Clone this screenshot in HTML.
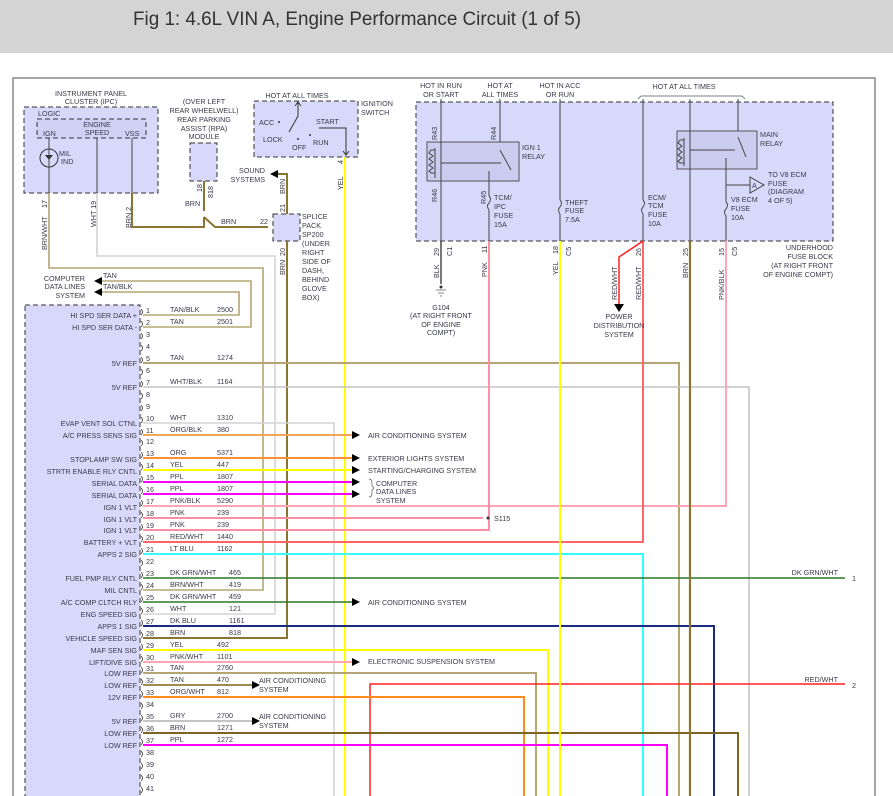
<!DOCTYPE html>
<html><head><meta charset="utf-8"><style>
html,body{margin:0;padding:0;background:#fff;}
svg{display:block;}
text{font-family:"Liberation Sans",sans-serif;fill:#3a3a4a;font-size:7.2px;}
.r{text-anchor:end}.m{text-anchor:middle}
</style></head><body>
<svg width="893" height="796" viewBox="0 0 893 796" xmlns="http://www.w3.org/2000/svg">
<defs>
<marker id="ar" markerWidth="8" markerHeight="8" refX="1" refY="4" orient="auto" markerUnits="userSpaceOnUse"><path d="M0,0 L8,4 L0,8z" fill="#000"/></marker>
</defs>
<rect x="0" y="0" width="893" height="53" fill="#d4d4d4"/>
<text x="133" y="25" style="font-size:19px;fill:#333" textLength="448" lengthAdjust="spacingAndGlyphs">Fig 1: 4.6L VIN A, Engine Performance Circuit (1 of 5)</text>
<path d="M13,796 V78 H875 V796" fill="none" stroke="#888" stroke-width="1.5"/>

<!-- boxes -->
<rect x="24" y="107" width="134" height="86" fill="#d8d8fa" stroke="#333" stroke-dasharray="5,3"/>
<rect x="37" y="119" width="109" height="19" fill="#d0d0f5" stroke="#333" stroke-dasharray="5,3"/>
<rect x="190" y="143" width="27" height="38" fill="#d8d8fa" stroke="#333" stroke-dasharray="5,3"/>
<rect x="254" y="101" width="104" height="56" fill="#d8d8fa" stroke="#333" stroke-dasharray="5,3"/>
<rect x="273" y="214" width="27" height="27" fill="#d8d8fa" stroke="#333" stroke-dasharray="5,3"/>
<rect x="25" y="305" width="115" height="500" fill="#d8d8fa" stroke="#333" stroke-dasharray="5,3"/>
<rect x="416" y="102" width="417" height="139" fill="#d8d8fa" stroke="#333" stroke-dasharray="5,3"/>
<rect x="427" y="142" width="92" height="39" fill="#ccccf0" stroke="#555"/>
<rect x="677" y="131" width="80" height="38" fill="#ccccf0" stroke="#555"/>

<!-- IPC -->
<text class="m" x="91" y="96">INSTRUMENT PANEL</text>
<text class="m" x="91" y="104">CLUSTER (IPC)</text>
<text x="38" y="116">LOGIC</text>
<text class="m" x="97" y="127">ENGINE</text>
<text class="m" x="97" y="135">SPEED</text>
<text x="43" y="136">IGN</text>
<text x="125" y="136">VSS</text>
<circle cx="49" cy="158" r="9" fill="none" stroke="#333"/>
<path d="M45,155 h8 l-4,5z" fill="#333"/>
<text x="59" y="156">MIL</text><text x="61" y="164">IND</text>
<path d="M49,138 V193 M97,138 V193 M132,138 V193" stroke="#444" fill="none"/>
<text transform="translate(47,208) rotate(-90)">17</text>
<text transform="translate(47,250) rotate(-90)">BRN/WHT</text>
<text transform="translate(96,227) rotate(-90)">WHT 19</text>
<text transform="translate(131,228) rotate(-90)">BRN 2</text>

<!-- RPA -->
<text class="m" x="204" y="104">(OVER LEFT</text>
<text class="m" x="204" y="113">REAR WHEELWELL)</text>
<text class="m" x="204" y="122">REAR PARKING</text>
<text class="m" x="204" y="131">ASSIST (RPA)</text>
<text class="m" x="204" y="139">MODULE</text>
<text transform="translate(202,192) rotate(-90)">18</text>
<text transform="translate(213,198) rotate(-90)">818</text>
<text x="185" y="206">BRN</text>
<text x="221" y="224">BRN</text>
<text x="260" y="224">22</text>

<!-- Ignition switch -->
<text class="m" x="297" y="98">HOT AT ALL TIMES</text>
<text x="361" y="106">IGNITION</text><text x="361" y="115">SWITCH</text>
<text x="259" y="125">ACC</text><text x="263" y="142">LOCK</text>
<text x="292" y="150">OFF</text><text x="313" y="145">RUN</text><text x="316" y="124">START</text>
<path d="M298,102 V116 L289,132 M295,106 l3,-4 3,4 M319,128 H346 V155 M343,151 l3,4 3,-4" stroke="#333" fill="none"/>
<circle cx="279" cy="122" r="1" fill="#333"/><circle cx="298" cy="139" r="1" fill="#333"/><circle cx="310" cy="135" r="1" fill="#333"/>
<text transform="translate(343,164) rotate(-90)">4</text>
<text transform="translate(343,190) rotate(-90)">YEL</text>

<!-- Splice -->
<text x="302" y="219">SPLICE</text><text x="302" y="228">PACK</text><text x="302" y="237">SP200</text>
<text x="302" y="246">(UNDER</text><text x="302" y="255">RIGHT</text><text x="302" y="264">SIDE OF</text>
<text x="302" y="273">DASH,</text><text x="302" y="282">BEHIND</text><text x="302" y="291">GLOVE</text><text x="302" y="300">BOX)</text>
<text class="r" x="265" y="173">SOUND</text><text class="r" x="265" y="182">SYSTEMS</text>
<text transform="translate(285,194) rotate(-90)">BRN</text>
<text transform="translate(285,212) rotate(-90)">21</text>
<text transform="translate(285,256) rotate(-90)">20</text>
<text transform="translate(285,275) rotate(-90)">BRN</text>

<!-- computer data lines -->
<text class="r" x="85" y="281">COMPUTER</text><text class="r" x="85" y="289">DATA LINES</text><text class="r" x="85" y="298">SYSTEM</text>
<text x="103" y="278">TAN</text><text x="103" y="289">TAN/BLK</text>

<!-- wires upper -->
<g fill="none" stroke-width="1.6">
<path d="M49,193 V268 H263 V590 H143" stroke="#b5a574"/>
<path d="M97,193 V256 H275 V614 H143" stroke="#d4d4d4"/>
<path d="M132,193 V227 H204 V217 M204,181 V211 M204,217 L215,227 H268 M287,241 V638 H143 M287,214 V174 H278" stroke="#8b7530" stroke-width="2"/>
<path d="M345,157 V796" stroke="#ffff00" stroke-width="2"/>
<path d="M143,315 H239 V292 H101" stroke="#b5a574" marker-end="url(#ar)"/>
<path d="M143,327 H251 V281 H101" stroke="#b5a574" marker-end="url(#ar)"/>
<path d="M143,363 H679 V796" stroke="#b5a574" stroke-width="2"/>
<path d="M143,387 H749 V796" stroke="#c4c4c4"/>
<path d="M143,423 H334 V796" stroke="#d4d4d4"/>
<path d="M143,435 H352" stroke="#f5a55a" stroke-width="2"/>
<path d="M143,458 H352" stroke="#ff9033" stroke-width="2"/>
<path d="M143,470 H352" stroke="#ffff00" stroke-width="2"/>
<path d="M143,482 H352" stroke="#ff00ff" stroke-width="2"/>
<path d="M143,494 H352" stroke="#ff00ff" stroke-width="2"/>
<path d="M143,506 H726 V241" stroke="#ffa5b5" stroke-width="2"/>
<path d="M143,518 H483" stroke="#ff8fa3" stroke-width="2"/>
<path d="M143,530 H489 V241" stroke="#ff8fa3" stroke-width="2"/>
<path d="M143,542 H643 V241" stroke="#ff6666" stroke-width="2"/>
<path d="M143,554 H643 V796" stroke="#33ffff" stroke-width="2"/>
<path d="M143,578 H845" stroke="#2a7a2a"/>
<path d="M143,602 H352" stroke="#2a7a2a"/>
<path d="M143,626 H714 V796" stroke="#1a2a80" stroke-width="2"/>
<path d="M143,650 H548 V796" stroke="#ffff00" stroke-width="2"/>
<path d="M143,662 H352" stroke="#ffa5b5" stroke-width="2"/>
<path d="M143,673 H536 V796" stroke="#b5a574" stroke-width="2"/>
<path d="M143,685 H252" stroke="#a08a50" stroke-width="2"/>
<path d="M370,796 V684 H845" stroke="#ff2020" stroke-width="1.5"/>
<path d="M143,697 H524 V796" stroke="#ff8c1a" stroke-width="2"/>
<path d="M143,721 H252" stroke="#c4c4c4" stroke-width="2"/>
<path d="M143,733 H738 V796" stroke="#7d6520" stroke-width="2"/>
<path d="M143,745 H667 V796" stroke="#ff00ff" stroke-width="2"/>
<path d="M560,241 V796" stroke="#ffff00" stroke-width="2"/>
<path d="M690,241 V796" stroke="#8b7530" stroke-width="2.2"/>
<path d="M441,241 V284" stroke="#555"/>
<path d="M643,241 L619,257 V304" stroke="#ff2020" stroke-width="1.5"/>
</g>
<!-- arrowheads -->
<g fill="#000">
<path d="M278,170 l-8,4 8,4z"/>
<path d="M352,431 l8,4 -8,4z"/><path d="M352,454 l8,4 -8,4z"/><path d="M352,466 l8,4 -8,4z"/>
<path d="M352,478 l8,4 -8,4z"/><path d="M352,490 l8,4 -8,4z"/><path d="M352,598 l8,4 -8,4z"/><path d="M352,658 l8,4 -8,4z"/>
<path d="M252,681 l8,4 -8,4z"/><path d="M252,717 l8,4 -8,4z"/>
<path d="M614,304 h10 l-5,8z"/>
</g>
<circle cx="488" cy="518" r="1.5" fill="#333"/>
<text x="494" y="521">S115</text>
<text x="368" y="438">AIR CONDITIONING SYSTEM</text>
<text x="368" y="461">EXTERIOR LIGHTS SYSTEM</text>
<text x="368" y="473">STARTING/CHARGING SYSTEM</text>
<path d="M369,479 q3,0 3,4 v3 l2,2 -2,2 v3 q0,4 -3,4" fill="none" stroke="#555" stroke-width="0.7"/>
<text x="376" y="486">COMPUTER</text><text x="376" y="494">DATA LINES</text><text x="376" y="503">SYSTEM</text>
<text x="368" y="605">AIR CONDITIONING SYSTEM</text>
<text x="368" y="664">ELECTRONIC SUSPENSION SYSTEM</text>
<text x="259" y="683">AIR CONDITIONING</text><text x="259" y="692">SYSTEM</text>
<text x="259" y="719">AIR CONDITIONING</text><text x="259" y="728">SYSTEM</text>
<text class="r" x="838" y="575">DK GRN/WHT</text><text x="852" y="581">1</text>
<text class="r" x="838" y="682">RED/WHT</text><text x="852" y="688">2</text>

<!-- PCM pin labels -->
<g>
<text class="r" x="137" y="318">HI SPD SER DATA +</text>
<text class="r" x="137" y="330">HI SPD SER DATA -</text>
<text class="r" x="137" y="366">5V REF</text>
<text class="r" x="137" y="390">5V REF</text>
<text class="r" x="137" y="426">EVAP VENT SOL CTNL</text>
<text class="r" x="137" y="438">A/C PRESS SENS SIG</text>
<text class="r" x="137" y="462">STOPLAMP SW SIG</text>
<text class="r" x="137" y="474">STRTR ENABLE RLY CNTL</text>
<text class="r" x="137" y="486">SERIAL DATA</text>
<text class="r" x="137" y="498">SERIAL DATA</text>
<text class="r" x="137" y="510">IGN 1 VLT</text>
<text class="r" x="137" y="522">IGN 1 VLT</text>
<text class="r" x="137" y="533">IGN 1 VLT</text>
<text class="r" x="137" y="545">BATTERY + VLT</text>
<text class="r" x="137" y="557">APPS 2 SIG</text>
<text class="r" x="137" y="581">FUEL PMP RLY CNTL</text>
<text class="r" x="137" y="593">MIL CNTL</text>
<text class="r" x="137" y="605">A/C COMP CLTCH RLY</text>
<text class="r" x="137" y="617">ENG SPEED SIG</text>
<text class="r" x="137" y="629">APPS 1 SIG</text>
<text class="r" x="137" y="641">VEHICLE SPEED SIG</text>
<text class="r" x="137" y="653">MAF SEN SIG</text>
<text class="r" x="137" y="665">LIFT/DIVE SIG</text>
<text class="r" x="137" y="676">LOW REF</text>
<text class="r" x="137" y="688">LOW REF</text>
<text class="r" x="137" y="700">12V REF</text>
<text class="r" x="137" y="724">5V REF</text>
<text class="r" x="137" y="736">LOW REF</text>
<text class="r" x="137" y="748">LOW REF</text>
</g>
<!-- pin numbers and connector arcs -->
<g style="font-size:6.8px">
<text x="146" y="313">1</text><text x="146" y="325">2</text><text x="146" y="337">3</text><text x="146" y="349">4</text><text x="146" y="361">5</text><text x="146" y="373">6</text><text x="146" y="385">7</text><text x="146" y="397">8</text><text x="146" y="409">9</text><text x="146" y="421">10</text><text x="146" y="433">11</text><text x="146" y="444">12</text><text x="146" y="456">13</text><text x="146" y="468">14</text><text x="146" y="480">15</text><text x="146" y="492">16</text><text x="146" y="504">17</text><text x="146" y="516">18</text><text x="146" y="528">19</text><text x="146" y="540">20</text><text x="146" y="552">21</text><text x="146" y="564">22</text><text x="146" y="576">23</text><text x="146" y="588">24</text><text x="146" y="600">25</text><text x="146" y="612">26</text><text x="146" y="624">27</text><text x="146" y="636">28</text><text x="146" y="648">29</text><text x="146" y="660">30</text><text x="146" y="671">31</text><text x="146" y="683">32</text><text x="146" y="695">33</text><text x="146" y="707">34</text><text x="146" y="719">35</text><text x="146" y="731">36</text><text x="146" y="743">37</text><text x="146" y="755">38</text><text x="146" y="767">39</text><text x="146" y="779">40</text><text x="146" y="791">41</text>
</g>
<path d="M141,309 q3,3 0,6 M141,321 q3,3 0,6 M141,333 q3,3 0,6 M141,345 q3,3 0,6 M141,357 q3,3 0,6 M141,369 q3,3 0,6 M141,381 q3,3 0,6 M141,393 q3,3 0,6 M141,405 q3,3 0,6 M141,417 q3,3 0,6 M141,429 q3,3 0,6 M141,440 q3,3 0,6 M141,452 q3,3 0,6 M141,464 q3,3 0,6 M141,476 q3,3 0,6 M141,488 q3,3 0,6 M141,500 q3,3 0,6 M141,512 q3,3 0,6 M141,524 q3,3 0,6 M141,536 q3,3 0,6 M141,548 q3,3 0,6 M141,560 q3,3 0,6 M141,572 q3,3 0,6 M141,584 q3,3 0,6 M141,596 q3,3 0,6 M141,608 q3,3 0,6 M141,620 q3,3 0,6 M141,632 q3,3 0,6 M141,644 q3,3 0,6 M141,656 q3,3 0,6 M141,667 q3,3 0,6 M141,679 q3,3 0,6 M141,691 q3,3 0,6 M141,703 q3,3 0,6 M141,715 q3,3 0,6 M141,727 q3,3 0,6 M141,739 q3,3 0,6 M141,751 q3,3 0,6 M141,763 q3,3 0,6 M141,775 q3,3 0,6 M141,787 q3,3 0,6" fill="none" stroke="#333" stroke-width="0.8"/>
<!-- wire names -->
<g>
<text x="170" y="312">TAN/BLK</text><text x="217" y="312">2500</text>
<text x="170" y="324">TAN</text><text x="217" y="324">2501</text>
<text x="170" y="360">TAN</text><text x="217" y="360">1274</text>
<text x="170" y="384">WHT/BLK</text><text x="217" y="384">1164</text>
<text x="170" y="420">WHT</text><text x="217" y="420">1310</text>
<text x="170" y="432">ORG/BLK</text><text x="217" y="432">380</text>
<text x="170" y="455">ORG</text><text x="217" y="455">5371</text>
<text x="170" y="467">YEL</text><text x="217" y="467">447</text>
<text x="170" y="479">PPL</text><text x="217" y="479">1807</text>
<text x="170" y="491">PPL</text><text x="217" y="491">1807</text>
<text x="170" y="503">PNK/BLK</text><text x="217" y="503">5290</text>
<text x="170" y="515">PNK</text><text x="217" y="515">239</text>
<text x="170" y="527">PNK</text><text x="217" y="527">239</text>
<text x="170" y="539">RED/WHT</text><text x="217" y="539">1440</text>
<text x="170" y="551">LT BLU</text><text x="217" y="551">1162</text>
<text x="170" y="575">DK GRN/WHT</text><text x="229" y="575">465</text>
<text x="170" y="587">BRN/WHT</text><text x="229" y="587">419</text>
<text x="170" y="599">DK GRN/WHT</text><text x="229" y="599">459</text>
<text x="170" y="611">WHT</text><text x="229" y="611">121</text>
<text x="170" y="623">DK BLU</text><text x="229" y="623">1161</text>
<text x="170" y="635">BRN</text><text x="229" y="635">818</text>
<text x="170" y="647">YEL</text><text x="217" y="647">492</text>
<text x="170" y="659">PNK/WHT</text><text x="217" y="659">1101</text>
<text x="170" y="670">TAN</text><text x="217" y="670">2760</text>
<text x="170" y="682">TAN</text><text x="217" y="682">470</text>
<text x="170" y="694">ORG/WHT</text><text x="217" y="694">812</text>
<text x="170" y="718">GRY</text><text x="217" y="718">2700</text>
<text x="170" y="730">BRN</text><text x="217" y="730">1271</text>
<text x="170" y="742">PPL</text><text x="217" y="742">1272</text>
</g>

<!-- fuse block -->
<text class="m" x="441" y="88">HOT IN RUN</text><text class="m" x="441" y="97">OR START</text>
<text class="m" x="500" y="88">HOT AT</text><text class="m" x="500" y="97">ALL TIMES</text>
<text class="m" x="560" y="88">HOT IN ACC</text><text class="m" x="560" y="97">OR RUN</text>
<text class="m" x="684" y="89">HOT AT ALL TIMES</text>
<path d="M638,99 l3,-3 H742 l3,3" fill="none" stroke="#555" stroke-width="0.7"/>
<g fill="none" stroke="#444" stroke-width="1">
<path d="M441,99 V241 M500,99 V142 M489,181 V241 M560,99 V241 M643,99 V241 M690,99 V241 M738,99 V131 M726,169 V241 M726,185 H750"/>
<path d="M435,148 v30 M435,150 h-4 l-2,3 4,3 -4,3 4,3 -4,3 4,3 -4,3 2,2 h4 M441,163 h60" />
<path d="M441,163 H500" stroke-dasharray="4,3"/>
<path d="M500,150 L511,170 M489,171 V181"/>
<path d="M684,138 v28 M684,140 h-4 l-2,3 4,3 -4,3 4,3 -4,3 4,3 -4,3 2,2 h4 M690,150 H735"/>
<path d="M690,150 H735" stroke-dasharray="4,3"/>
<path d="M738,137 L746,157 M726,158 V169"/>
<path d="M489,196 q3,3 0,6 q-3,3 0,6 M560,201 q3,3 0,6 q-3,3 0,6 M643,201 q3,3 0,6 q-3,3 0,6 M726,203 q3,3 0,6 q-3,3 0,6"/>
</g>
<rect x="486" y="196" width="6" height="14" fill="#d8d8fa"/><path d="M489,196 q3,3 0,7 q-3,3 0,7" fill="none" stroke="#444"/>
<rect x="557" y="200" width="6" height="14" fill="#d8d8fa"/><path d="M560,200 q3,3 0,7 q-3,3 0,7" fill="none" stroke="#444"/>
<rect x="640" y="200" width="6" height="14" fill="#d8d8fa"/><path d="M643,200 q3,3 0,7 q-3,3 0,7" fill="none" stroke="#444"/>
<rect x="723" y="202" width="6" height="14" fill="#d8d8fa"/><path d="M726,202 q3,3 0,7 q-3,3 0,7" fill="none" stroke="#444"/>
<polygon points="750,177 764,185 750,193" fill="#d8d8fa" stroke="#444"/>
<text x="752" y="188">A</text>
<text x="522" y="150">IGN 1</text><text x="522" y="159">RELAY</text>
<text x="760" y="137">MAIN</text><text x="760" y="146">RELAY</text>
<text x="768" y="177">TO V8 ECM</text><text x="768" y="186">FUSE</text><text x="768" y="194">(DIAGRAM</text><text x="768" y="203">4 OF 5)</text>
<text x="494" y="200">TCM/</text><text x="494" y="209">IPC</text><text x="494" y="218">FUSE</text><text x="494" y="227">15A</text>
<text x="565" y="205">THEFT</text><text x="565" y="213">FUSE</text><text x="565" y="222">7.5A</text>
<text x="648" y="200">ECM/</text><text x="648" y="208">TCM</text><text x="648" y="217">FUSE</text><text x="648" y="226">10A</text>
<text x="731" y="202">V8 ECM</text><text x="731" y="211">FUSE</text><text x="731" y="220">10A</text>
<text transform="translate(437,140) rotate(-90)">R43</text>
<text transform="translate(496,140) rotate(-90)">R44</text>
<text transform="translate(437,202) rotate(-90)">R46</text>
<text transform="translate(486,204) rotate(-90)">R45</text>
<text class="r" x="833" y="250">UNDERHOOD</text><text class="r" x="833" y="259">FUSE BLOCK</text>
<text class="r" x="833" y="268">(AT RIGHT FRONT</text><text class="r" x="833" y="277">OF ENGINE COMPT)</text>
<g>
<text transform="translate(439,256) rotate(-90)">29</text><text transform="translate(452,256) rotate(-90)">C1</text>
<text transform="translate(439,278) rotate(-90)">BLK</text>
<text transform="translate(487,253) rotate(-90)">11</text><text transform="translate(487,277) rotate(-90)">PNK</text>
<text transform="translate(558,254) rotate(-90)">18</text><text transform="translate(571,256) rotate(-90)">C5</text>
<text transform="translate(558,275) rotate(-90)">YEL</text>
<text transform="translate(641,256) rotate(-90)">26</text><text transform="translate(641,300) rotate(-90)">RED/WHT</text>
<text transform="translate(617,300) rotate(-90)">RED/WHT</text>
<text transform="translate(688,256) rotate(-90)">25</text><text transform="translate(688,278) rotate(-90)">BRN</text>
<text transform="translate(724,256) rotate(-90)">15</text><text transform="translate(737,256) rotate(-90)">C5</text>
<text transform="translate(724,300) rotate(-90)">PNK/BLK</text>
</g>
<path d="M436,290 h10 M438,293 h6 M440,296 h2" stroke="#888"/>
<circle cx="441" cy="287" r="1.5" fill="#333"/>
<text class="m" x="441" y="310">G104</text><text class="m" x="441" y="318">(AT RIGHT FRONT</text>
<text class="m" x="441" y="327">OF ENGINE</text><text class="m" x="441" y="335">COMPT)</text>
<text class="m" x="619" y="319">POWER</text><text class="m" x="619" y="328">DISTRIBUTION</text><text class="m" x="619" y="337">SYSTEM</text>
</svg>
</body></html>
